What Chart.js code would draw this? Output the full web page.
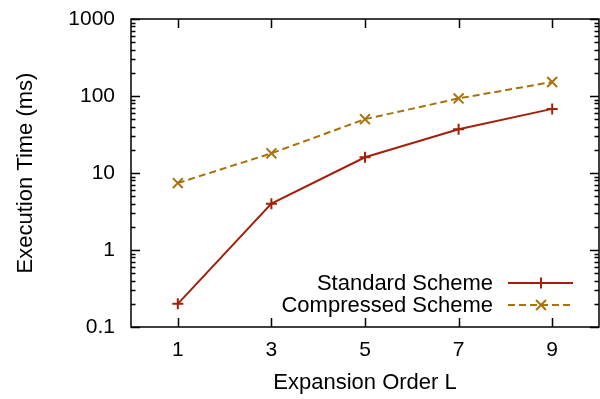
<!DOCTYPE html>
<html>
<head>
<meta charset="utf-8">
<script src="https://cdn.jsdelivr.net/npm/chart.js@4/dist/chart.umd.min.js"></script>
<style>
html,body{margin:0;padding:0;background:#fff;}
#wrap{width:600px;height:399px;position:relative;}
</style>
</head>
<body>
<div id="wrap"><canvas id="c" width="600" height="399"></canvas></div>
<script>
const orders = [1, 3, 5, 7, 9];
const standardScheme = [0.2, 4.0, 16.0, 37, 68];
const compressedScheme = [7.4, 18.0, 50, 93, 152];
const xTickValues = [1, 3, 5, 7, 9];
const yTickValues = [0.1, 1, 10, 100, 1000];
const seriesNames = ['Standard Scheme', 'Compressed Scheme'];
const xTitle = 'Expansion Order L';
const yTitle = 'Execution Time (ms)';

const FONT = 'Liberation Sans, Arial, sans-serif';
const C_STD = '#a3200b';
const C_CMP = '#a8720c';

const toXY = (vals) => orders.map((o, i) => ({x: o, y: vals[i]}));

const frame = {
  id: 'frame',
  afterDatasetsDraw(chart) {
    const {ctx, chartArea: a, scales: {x, y}} = chart;
    ctx.save();
    ctx.strokeStyle = '#000';
    ctx.lineWidth = 1.5;
    ctx.beginPath();
    xTickValues.forEach(v => {
      const px = Math.round(x.getPixelForValue(v)) + 0.5;
      ctx.moveTo(px, a.bottom); ctx.lineTo(px, a.bottom - 9);
      ctx.moveTo(px, a.top); ctx.lineTo(px, a.top + 9);
    });
    yTickValues.forEach((v, i) => {
      const py = Math.round(y.getPixelForValue(v)) + 0.5;
      ctx.moveTo(a.left, py); ctx.lineTo(a.left + 9, py);
      ctx.moveTo(a.right, py); ctx.lineTo(a.right - 9, py);
      if (i < yTickValues.length - 1) {
        for (let m = 2; m <= 9; m++) {
          const pm = Math.round(y.getPixelForValue(v * m)) + 0.5;
          ctx.moveTo(a.left, pm); ctx.lineTo(a.left + 4.5, pm);
          ctx.moveTo(a.right, pm); ctx.lineTo(a.right - 4.5, pm);
        }
      }
    });
    ctx.stroke();
    ctx.lineWidth = 1.5;
    ctx.strokeRect(a.left, a.top, a.right - a.left, a.bottom - a.top);

    // legend inside plot
    ctx.font = '22px ' + FONT;
    ctx.textAlign = 'right';
    ctx.textBaseline = 'middle';
    const rows = [283, 305];
    chart.data.datasets.forEach((ds, i) => {
      const ry = rows[i];
      ctx.fillStyle = '#000';
      ctx.fillText(ds.label, 493, ry + 1);
      ctx.strokeStyle = ds.borderColor;
      ctx.lineWidth = ds.borderWidth;
      ctx.setLineDash(ds.borderDash || []);
      ctx.beginPath();
      ctx.moveTo(508, ry); ctx.lineTo(573, ry);
      ctx.stroke();
      ctx.setLineDash([]);
      Chart.helpers.drawPoint(ctx, {
        pointStyle: ds.pointStyle, radius: ds.pointRadius,
        borderWidth: ds.pointBorderWidth, rotation: 0
      }, 541, ry);
    });
    ctx.restore();
  }
};

new Chart(document.getElementById('c'), {
  type: 'scatter',
  data: {
    datasets: [
      {
        label: seriesNames[0], data: toXY(standardScheme), showLine: true,
        borderColor: C_STD, backgroundColor: C_STD, borderWidth: 2,
        pointStyle: 'cross', pointRadius: 5.5, pointBorderWidth: 2, pointBorderColor: C_STD
      },
      {
        label: seriesNames[1], data: toXY(compressedScheme), showLine: true,
        borderColor: C_CMP, backgroundColor: C_CMP, borderWidth: 2, borderDash: [7, 4],
        pointStyle: 'crossRot', pointRadius: 7, pointBorderWidth: 2, pointBorderColor: C_CMP
      }
    ]
  },
  options: {
    responsive: false, animation: false,
    layout: {autoPadding: false, padding: {top: 19, right: 1, left: 0, bottom: 0}},
    plugins: {legend: {display: false}, tooltip: {enabled: false}},
    scales: {
      x: {
        type: 'linear', min: 0, max: 10,
        afterBuildTicks: s => { s.ticks = xTickValues.map(v => ({value: v})); },
        afterFit: s => { s.height = 72; s.paddingLeft = 0; s.paddingRight = 0; },
        grid: {display: false, drawTicks: false},
        border: {display: false},
        ticks: {color: '#000', font: {family: FONT, size: 21}, padding: 11, maxRotation: 0},
        title: {display: true, text: xTitle, color: '#000', font: {family: FONT, size: 22}, padding: {top: 4, bottom: 3}}
      },
      y: {
        type: 'logarithmic', min: 0.1, max: 1000,
        afterBuildTicks: s => { s.ticks = yTickValues.map(v => ({value: v})); },
        afterFit: s => { s.width = 131; s.paddingTop = 0; s.paddingBottom = 0; },
        grid: {display: false, drawTicks: false},
        border: {display: false},
        ticks: {color: '#000', font: {family: FONT, size: 21}, padding: 16, callback: v => String(v)},
        title: {display: true, text: yTitle, color: '#000', font: {family: FONT, size: 22}, padding: {top: 13, bottom: 4}}
      }
    }
  },
  plugins: [frame]
});
</script>
</body>
</html>
